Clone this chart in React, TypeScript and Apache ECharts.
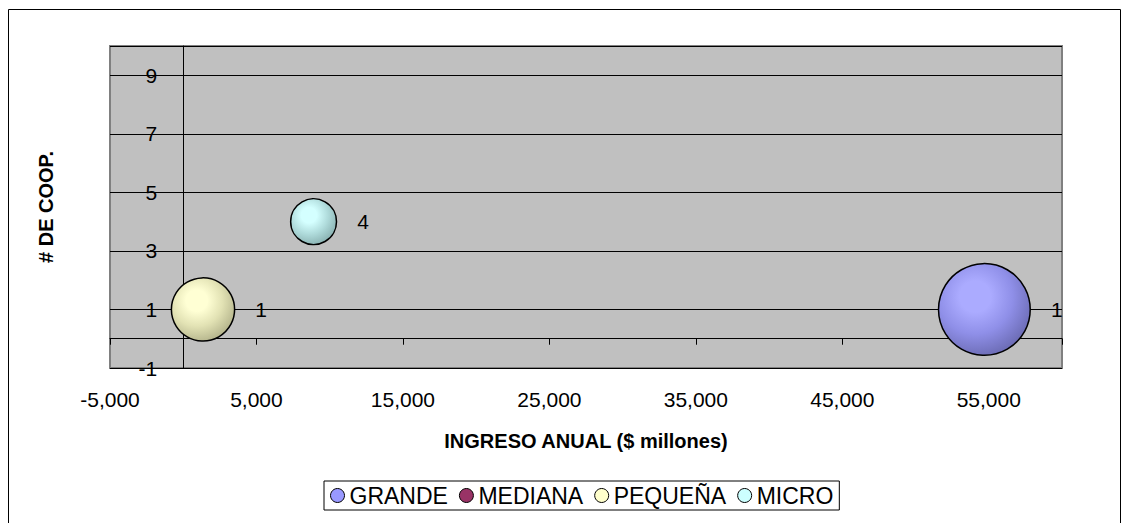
import React, { useEffect, useRef } from "react";
import * as echarts from "echarts";

// ---- data ----
const seriesNames = ["GRANDE", "MEDIANA", "PEQUEÑA", "MICRO"];
// [ingreso anual ($ millones), # de coop., tamaño de burbuja]
const grandeData = [[54700, 1, 4.0]];
const medianaData: number[][] = [];
const pequenaData = [[1350, 1, 1.9]];
const microData = [[8900, 4, 1.0]];

const xMin = -5000;
const xMax = 60000;
const xStep = 10000;
const yMin = -1;
const yMax = 10;
const yStep = 2;

const xTitle = "INGRESO ANUAL ($ millones)";
const yTitle = "# DE COOP.";

// ---- styles ----
const FONT = "'Liberation Sans', Arial, sans-serif";
const legendColors = ["#9999FF", "#993366", "#FFFFCC", "#CCFFFF"];
const bubbleStops = [
  ["#ABABFF", "#8F8FE8", "#6A6AB2"],
  ["#B0507E", "#993366", "#6B2347"],
  ["#FFFFD4", "#E2E2B4", "#B2B28A"],
  ["#D4FFFF", "#B0DCDC", "#88B0B0"],
];

const MAX_D = 91.7;
const GRID_LEFT = 110;

export default function App() {
  const ref = useRef<HTMLDivElement>(null);

  useEffect(() => {
    if (!ref.current) return;
    const chart = echarts.init(ref.current, undefined, { renderer: "svg" });
    const allData = [grandeData, medianaData, pequenaData, microData];
    const maxSize = Math.max(
      ...allData.flat().map((d) => (d as number[])[2])
    );

    const series = seriesNames.map((name, i) => ({
      name,
      type: "scatter",
      xAxisIndex: 0,
      yAxisIndex: 0,
      data: allData[i],
      symbol: "circle",
      symbolSize: (v: number[]) => MAX_D * Math.sqrt(v[2] / maxSize),
      itemStyle: {
        color: {
          type: "radial",
          x: 0.4,
          y: 0.36,
          r: 0.68,
          colorStops: [
            { offset: 0, color: bubbleStops[i][0] },
            { offset: 0.25, color: bubbleStops[i][0] },
            { offset: 0.6, color: bubbleStops[i][1] },
            { offset: 1, color: bubbleStops[i][2] },
          ],
        },
        borderColor: "#000",
        borderWidth: 1.5,
        opacity: 1,
      },
      label: {
        show: true,
        position: "right",
        distance: 20,
        formatter: (p: any) => String(p.value[1]),
        fontFamily: FONT,
        fontSize: 21,
        color: "#000",
      },
      emphasis: { disabled: true },
    }));

    chart.setOption({
      animation: false,
      backgroundColor: "#FFFFFF",
      textStyle: { fontFamily: FONT },
      graphic: [
        {
          type: "rect",
          shape: { x: 8.5, y: 9.5, width: 1112, height: 600 },
          style: { fill: "none", stroke: "#000", lineWidth: 1 },
          silent: true,
          z: -1,
        },
      ],
      grid: {
        left: GRID_LEFT,
        right: 60,
        top: 46,
        bottom: 155,
        outerBoundsMode: "none",
        containLabel: false,
        show: true,
        backgroundColor: "#C0C0C0",
        borderColor: "#808080",
        borderWidth: 2,
      },
      legend: {
        left: 324,
        top: 481,
        padding: [3, 6, 3, 6],
        borderColor: "#000",
        borderWidth: 1,
        itemGap: 11,
        itemWidth: 14,
        itemHeight: 14,
        itemTextGap: 5,
        icon: "circle",
        data: seriesNames.map((n, i) => ({
          name: n,
          itemStyle: {
            color: legendColors[i],
            borderColor: "#000",
            borderWidth: 1,
          },
        })),
        textStyle: { fontFamily: FONT, fontSize: 23, color: "#000" },
      },
      xAxis: [
        {
          type: "value",
          min: xMin,
          max: xMax,
          interval: xStep,
          position: "bottom",
          name: xTitle,
          nameLocation: "middle",
          nameGap: 63,
          nameTextStyle: {
            fontFamily: FONT,
            fontSize: 20,
            fontWeight: "bold",
            color: "#000",
          },
          axisLine: { show: false, onZero: false },
          axisTick: { show: false },
          splitLine: { show: false },
          axisLabel: {
            fontFamily: FONT,
            fontSize: 21,
            color: "#000",
            margin: 21,
            showMaxLabel: false,
            formatter: (v: number) => v.toLocaleString("en-US"),
          },
        },
        {
          type: "value",
          min: xMin,
          max: xMax,
          interval: xStep,
          position: "bottom",
          axisLine: {
            show: true,
            onZero: true,
            onZeroAxisIndex: 0,
            lineStyle: { color: "#000", width: 1 },
          },
          axisTick: {
            show: true,
            inside: false,
            length: 6,
            lineStyle: { color: "#000", width: 1 },
          },
          axisLabel: { show: false },
          splitLine: { show: false },
        },
      ],
      yAxis: [
        {
          type: "value",
          min: yMin,
          max: yMax,
          interval: yStep,
          position: "left",
          offset: 0,
          name: yTitle,
          nameLocation: "middle",
          nameGap: 127,
          nameTextStyle: {
            fontFamily: FONT,
            fontSize: 20,
            fontWeight: "bold",
            color: "#000",
          },
          axisLine: {
            show: true,
            onZero: false,
            lineStyle: { color: "#000", width: 1 },
          },
          axisTick: {
            show: true,
            inside: false,
            length: 6,
            lineStyle: { color: "#000", width: 1 },
          },
          splitLine: { show: true, lineStyle: { color: "#000", width: 1 } },
          axisLabel: {
            fontFamily: FONT,
            fontSize: 21,
            color: "#000",
            margin: 26,
            showMaxLabel: false,
          },
        },
      ],
      series,
    });

    // place the y axis (line, ticks, labels, name) at x = 0 of the x scale
    const zeroPx = chart.convertToPixel({ xAxisIndex: 0 }, 0) as number;
    chart.setOption({ yAxis: [{ offset: GRID_LEFT - zeroPx }] });

    return () => chart.dispose();
  }, []);

  return (
    <div
      style={{
        position: "fixed",
        left: 0,
        top: 0,
        width: 1122,
        height: 523,
        overflow: "hidden",
        background: "#fff",
      }}
    >
      <div ref={ref} style={{ width: 1122, height: 523 }} />
    </div>
  );
}
